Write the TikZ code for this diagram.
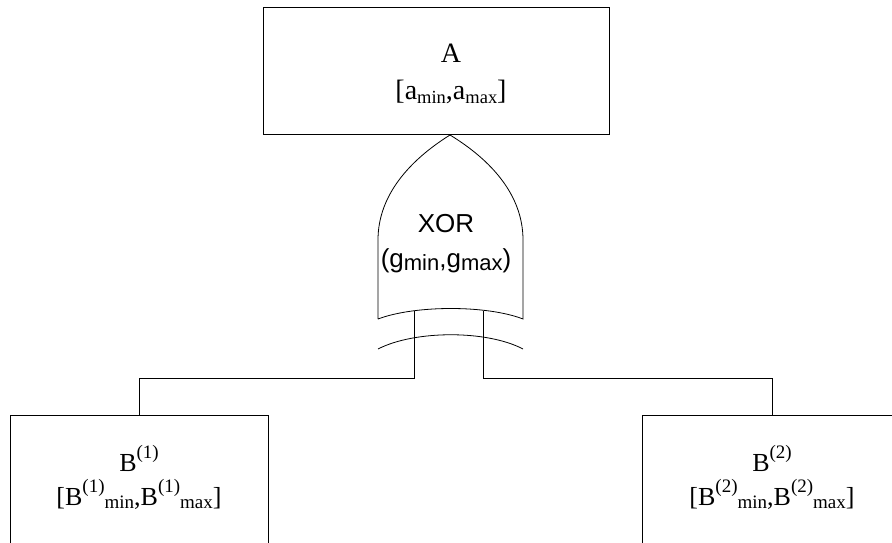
\documentclass[tikz,border=0pt]{standalone}
\usepackage{fontspec}
\setmainfont{Liberation Serif}
\newfontfamily\arialf{Liberation Sans}
\newcommand\lowA[1]{\raisebox{-0.15em}{\fontsize{18.5}{20}\selectfont #1}}
\newcommand\lowB[1]{\raisebox{-0.15em}{\fontsize{19}{20}\selectfont #1}}
\newcommand\highB[1]{\raisebox{0.47em}{\fontsize{19}{20}\selectfont #1}}
\newcommand\lowG[1]{\raisebox{-0.12em}{\fontsize{22}{22}\selectfont #1}}
\begin{document}
\begin{tikzpicture}[x=1pt,y=-1pt, line width=0.8pt,
 box/.style={draw, rectangle, inner sep=0pt},
 albl/.style={align=center, anchor=base, font=\fontsize{28}{37}\selectfont, inner sep=0pt},
 blbl/.style={align=center, anchor=base, font=\fontsize{26}{34}\selectfont, inner sep=0pt},
 glbl/.style={align=center, anchor=base, font=\arialf\fontsize{26}{35}\selectfont, inner sep=0pt},
 wire/.style={draw}]
\useasboundingbox (0,0) rectangle (892,543);
\clip (0,0) rectangle (892,543);
% top box
\node[box, minimum width=346pt, minimum height=127pt] (a) at (436,70.5) {};
\node[albl] (at) at (451,99.7) {A\\{}[a\lowA{min},a\lowA{max}]};
% gate
\coordinate (apex) at (450,135);
\coordinate (gtl) at (378,240);
\coordinate (gtr) at (523,240);
\coordinate (gbl) at (378,319);
\coordinate (gbr) at (523,319);
\draw (gbl) -- (gtl) .. controls (378,195) and (410,160) .. (apex)
      .. controls (491,160) and (523,195) .. (gtr) -- (gbr)
      .. controls (487,305) and (415,305) .. (gbl);
\draw (378,349) .. controls (415,330) and (487,330) .. (523,349);
\node[glbl] (g) at (446,267.7) {XOR\\(g\lowG{min},g\lowG{max})};
% bottom boxes
\node[box, minimum width=258pt, minimum height=150pt] (b1) at (139,490) {};
\node[blbl] (b1t) at (139,505) {B\highB{(1)}\\{}[B\highB{(1)}\lowB{min},B\highB{(1)}\lowB{max}]};
\node[box, minimum width=260pt, minimum height=150pt] (b2) at (772,490) {};
\node[blbl] (b2t) at (772,505) {B\highB{(2)}\\{}[B\highB{(2)}\lowB{min},B\highB{(2)}\lowB{max}]};
% wires
\coordinate (in1) at (414,310.7);
\coordinate (in2) at (483,310.7);
\draw[wire] (in1) -- ++(0,67.3) -| (b1.north);
\draw[wire] (in2) -- ++(0,67.3) -| (b2.north);
\end{tikzpicture}
\end{document}
